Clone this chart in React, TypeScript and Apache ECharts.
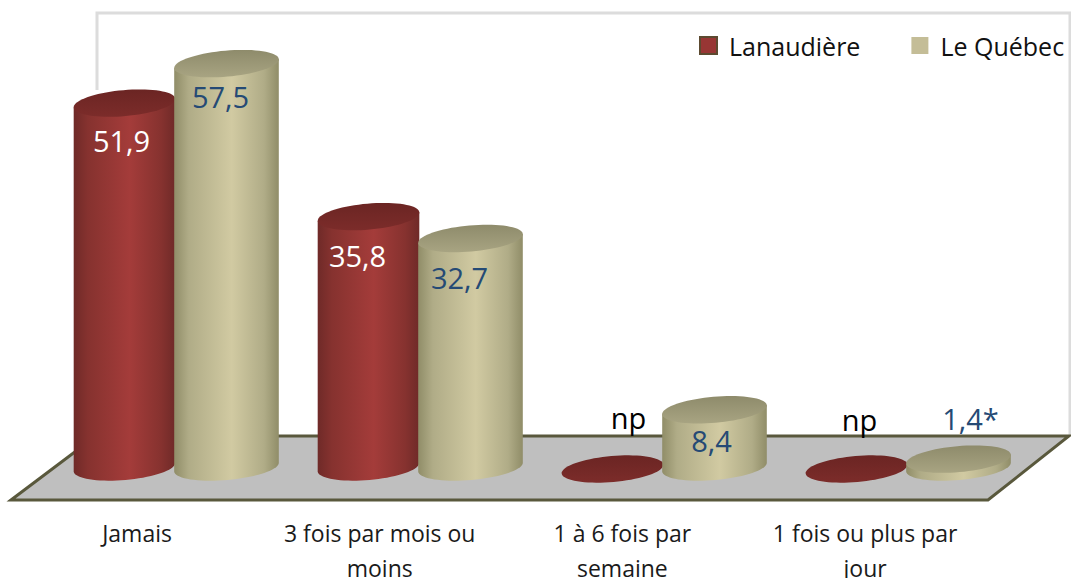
import React, { useEffect, useRef } from "react";
import * as echarts from "echarts";

const categories = ["Jamais", "3 fois par mois ou\nmoins", "1 à 6 fois par\nsemaine", "1 fois ou plus par\njour"];
const lanaudiereValues = [51.9, 35.8, 0, 0];
const quebecValues = [57.5, 32.7, 8.4, 1.4];
const lanaudiereLabels = ["51,9", "35,8", "np", "np"];
const quebecLabels = ["57,5", "32,7", "8,4", "1,4*"];

const FONT = "'Open Sans', sans-serif";
const TILT = (5 * Math.PI) / 180;

function ellipsePoint(cx: number, cy: number, a: number, b: number, t: number) {
  const x = a * Math.cos(t);
  const y = b * Math.sin(t);
  return [cx + x * Math.cos(TILT) + y * Math.sin(TILT), cy - x * Math.sin(TILT) + y * Math.cos(TILT)];
}

function ellipseOutline(cx: number, cy: number, a: number, b: number) {
  const pts: number[][] = [];
  for (let i = 0; i < 72; i++) pts.push(ellipsePoint(cx, cy, a, b, (i / 72) * 2 * Math.PI));
  return pts;
}

function sideOutline(cx: number, topY: number, baseY: number, a: number, b: number) {
  const pts: number[][] = [];
  pts.push(ellipsePoint(cx, topY, a, b, 0));
  for (let i = 0; i <= 36; i++) pts.push(ellipsePoint(cx, baseY, a, b, (i / 36) * Math.PI));
  pts.push(ellipsePoint(cx, topY, a, b, Math.PI));
  return pts;
}

type Look = {
  dx: number;
  a: number;
  side: string[];
  top: string[];
  textColor: (label: string) => string;
  labels: string[];
  labelDx: number[];
  labelDy: number[];
};

function makeRender(look: Look) {
  return (params: any, api: any) => {
    const idx = api.value(0);
    const val = api.value(1);
    const [px, topY] = api.coord([idx, val]);
    const [, baseY] = api.coord([idx, 0]);
    const cx = px + look.dx;
    const a = look.a;
    const b = 13;
    const sideFill = {
      type: "linear", x: 0, y: 0, x2: 1, y2: 0,
      colorStops: [
        { offset: 0, color: look.side[0] },
        { offset: 0.14, color: look.side[1] },
        { offset: 0.55, color: look.side[2] },
        { offset: 0.86, color: look.side[1] },
        { offset: 1, color: look.side[0] },
      ],
    };
    const topFill = {
      type: "linear", x: 0, y: 0, x2: 0, y2: 1,
      colorStops: [
        { offset: 0, color: look.top[0] },
        { offset: 1, color: look.top[1] },
      ],
    };
    const children: any[] = [];
    if (val > 0) {
      children.push({ type: "polygon", shape: { points: sideOutline(cx, topY, baseY - 2, a, b) }, style: { fill: sideFill } });
    }
    children.push({ type: "polygon", shape: { points: ellipseOutline(cx, topY, a, b) }, style: { fill: topFill } });
    const label = look.labels[idx];
    children.push({
      type: "text",
      x: cx + look.labelDx[idx],
      y: topY + look.labelDy[idx],
      style: {
        text: label,
        fill: look.textColor(label),
        font: `29px ${FONT}`,
        align: "center",
        verticalAlign: "middle",
      },
    });
    return { type: "group", children };
  };
}

export default function App() {
  const ref = useRef<HTMLDivElement>(null);
  useEffect(() => {
    const chart = echarts.init(ref.current!, undefined, { renderer: "svg" });
    chart.setOption({
      animation: false,
      backgroundColor: "#ffffff",
      grid: [
        { left: 15.7, width: 970.7, top: 10, bottom: 65, outerBoundsMode: "none" },
        { left: 53.5, width: 976, top: 46, bottom: 109, outerBoundsMode: "none" },
      ],
      xAxis: [
        {
          gridIndex: 0, type: "category", data: categories,
          axisLine: { show: false }, axisTick: { show: false },
          axisLabel: { interval: 0, margin: 2, color: "#1a1a1a", fontFamily: FONT, fontSize: 23, lineHeight: 35, verticalAlign: "top", hideOverlap: false },
        },
        { gridIndex: 1, type: "category", data: categories, show: false },
      ],
      yAxis: [
        { gridIndex: 0, type: "value", min: 0, max: 60, show: false },
        { gridIndex: 1, type: "value", min: 0, max: 60, show: false },
      ],
      legend: {
        left: 694, top: 28, icon: "rect", itemWidth: 17, itemHeight: 17, itemGap: 51,
        selectedMode: false,
        textStyle: { color: "#111111", fontFamily: FONT, fontSize: 25, padding: [0, 0, 0, 7] },
        data: [
          { name: "Lanaudière", itemStyle: { color: "#983634", borderColor: "#5c4a30", borderWidth: 2 } },
          { name: "Le Québec", itemStyle: { color: "#c4bd97" } },
        ],
      },
      graphic: [
        {
          type: "polyline", z: -2, silent: true,
          shape: { points: [[97, 90], [97, 13], [1070, 13], [1070, 436]] },
          style: { stroke: "#dcdcdc", lineWidth: 3, fill: "none" },
        },
        {
          type: "polygon", z: -1, silent: true,
          shape: { points: [[11, 500], [96, 436], [1069, 436], [988, 500]] },
          style: { fill: "#bfbfbf", stroke: "#59583c", lineWidth: 3, lineJoin: "miter" },
        },
      ],
      series: [
        {
          name: "Lanaudière", type: "custom", xAxisIndex: 1, yAxisIndex: 1, z: 3, silent: true,
          itemStyle: { color: "#983634" },
          encode: { x: 0, y: 1 },
          data: lanaudiereValues.map((v, i) => [i, v]),
          renderItem: makeRender({
            dx: -51, a: 51, side: ["#6f2a28", "#86322f", "#a43c3a"], top: ["#6b2523", "#7c2c2a"],
            textColor: (l) => (l === "np" ? "#000000" : "#ffffff"),
            labels: lanaudiereLabels,
            labelDx: [-3, -11, 16, 3],
            labelDy: [37, 39, -52, -50],
          }),
        },
        {
          name: "Le Québec", type: "custom", xAxisIndex: 1, yAxisIndex: 1, z: 4, silent: true,
          itemStyle: { color: "#c4bd97" },
          encode: { x: 0, y: 1 },
          data: quebecValues.map((v, i) => [i, v]),
          renderItem: makeRender({
            dx: 51, a: 52.5, side: ["#908d68", "#b0ac87", "#d1caa2"], top: ["#8e8b6b", "#a8a482"],
            textColor: () => "#254a75",
            labels: quebecLabels,
            labelDx: [-6, -11, -3, 12],
            labelDy: [33, 39, 31, -41],
          }),
        },
      ],
    });
    return () => chart.dispose();
  }, []);
  return <div ref={ref} style={{ position: "fixed", left: 0, top: 0, width: 1071, height: 578 }} />;
}
